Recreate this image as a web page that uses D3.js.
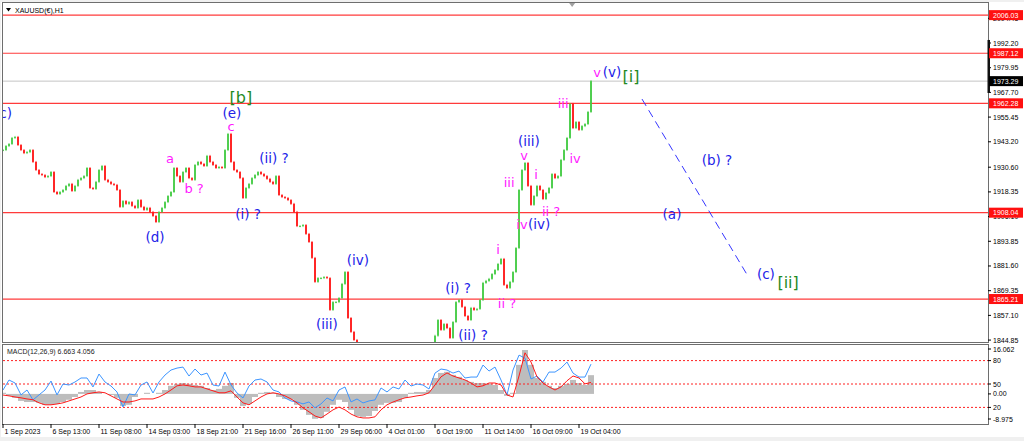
<!DOCTYPE html>
<html><head><meta charset="utf-8">
<script src="https://cdn.jsdelivr.net/npm/d3@7"></script>
<style>html,body{margin:0;padding:0;background:#f0f0f0;overflow:hidden}</style>
</head><body><svg id="c" width="1024" height="441"></svg>
<script>
// ---------- DATA ----------
const closes = [1939.1,1941.1,1942.1,1945.1,1945.6,1941.6,1939.1,1937.6,1938.1,1939.1,
1933.2,1929.2,1927.2,1926.7,1925.7,1926.2,1928.2,1918.3,1917.3,1918.3,
1919.3,1921.3,1922.3,1918.8,1921.3,1924.3,1925.2,1926.2,1930.2,1920.3,
1919.8,1923.3,1929.2,1931.2,1924.3,1923.3,1922.3,1921.8,1919.3,1910.9,
1913.8,1912.4,1913.3,1911.4,1910.4,1914.3,1910.9,1909.4,1910.4,1908.4,
1906.4,1903.4,1908.4,1910.4,1913.3,1916.3,1918.3,1930.2,1926.2,1923.3,
1928.2,1930.2,1925.2,1924.3,1931.7,1933.2,1932.2,1931.2,1936.2,1933.2,
1931.7,1930.2,1930.7,1930.2,1939.1,1947.1,1933.2,1929.2,1928.2,1925.2,
1915.3,1920.3,1922.3,1925.2,1926.7,1928.2,1927.2,1926.2,1924.8,1923.3,
1922.3,1926.2,1916.8,1915.8,1915.3,1914.3,1912.4,1908.4,1901.4,1901.4,
1901.9,1897.5,1893.5,1885.6,1873.7,1875.6,1875.6,1876.1,1875.6,1859.8,
1863.7,1863.7,1865.7,1872.7,1878.6,1855.8,1848.9,1844.9,1841.9,
1838,1835,1832,1830,1827,1825,1828,1823,1820,1822,1818,1815,1813,1816,1819,1814,1811,1817,1821,1825,1823,1828,1833,1837,1842,1847,
1854.8,1849.9,1852.8,1850.8,1845.9,1853.8,1863.7,1864.7,1861.3,1856.8,
1854.8,1860.8,1859.8,1860.3,1864.7,1873.2,1874.2,1875.2,1877.6,1879.6,
1882.6,1885.1,1872.2,1870.7,1873.7,1878.6,1890.5,1919.3,1929.2,1932.7,
1921.3,1911.9,1916.3,1921.3,1919.3,1914.8,1917.8,1920.3,1927.2,1925.2,
1926.2,1934.2,1939.1,1945.1,1962.0,1950.0,1953.0,1949.1,1951.0,1952.0,
1958.0,1973.3];

const xTickLabels = ["1 Sep 2023","6 Sep 13:00","11 Sep 08:00","14 Sep 03:00","18 Sep 21:00","21 Sep 16:00","26 Sep 11:00","29 Sep 06:00","4 Oct 01:00","6 Oct 19:00","11 Oct 14:00","16 Oct 09:00","19 Oct 04:00"];
const xTickEvery = 16;
const priceTicks = [2004.45,1992.20,1979.95,1967.70,1955.45,1943.20,1930.60,1918.35,1906.10,1893.85,1881.60,1869.35,1857.10,1844.85];
const levelLines = [2006.03,1987.12,1962.28,1908.04,1865.21];
const lastPrice = 1973.29;
const priceRange = [1843.4, 2012.04];
const barRange = [0, 328.33];

const macdMain = [0.4,-0.7,-1.4,-2.5,-2.9,-2.9,-3.2,-3.9,-3.9,-3.6,
-2.9,-2.1,-1.1,0.7,1.4,1.4,0.7,0,-0.4,-1.4,
-4.3,-3.9,-1.1,0,0.4,0,0.4,1.4,2.9,3.6,
3.9,3.6,3.2,2.9,2.1,1.4,1.8,2.9,3.9,-1.4,
-4.3,-3.6,-1.1,0.4,0.7,0.4,-1.1,-1.8,-2.1,-3.9,
-5.7,-7.5,-8.9,-8.6,-6.4,-3.9,-2.1,-2.9,-5.7,-7.9,
-8.2,-7.9,-6.1,-3.9,-3.2,-3.2,-2.9,-1.4,0.4,0.7,
0.7,1.4,5.7,7.5,7.9,6.8,6.1,5.0,4.3,3.9,
3.9,3.6,3.2,1.4,-0.7,0.4,10.4,15.7,10.4,5.7,
4.3,2.9,2.1,2.9,3.6,5.0,3.9,3.2,6.7];
const macdSignal = [-0.4,-0.7,-1.1,-1.4,-1.8,-2.1,-3.2,-3.9,-3.9,-3.6,
-3.2,-2.5,-1.8,-1.1,0,0.4,0.7,0.4,-0.7,-1.8,
-2.9,-2.9,-2.5,-1.8,-1.8,-1.8,-1.1,0,1.4,2.9,
3.2,2.9,2.5,2.5,1.8,1.1,0.4,0.4,1.1,-1.1,
-3.2,-3.9,-2.5,-1.1,0,0.4,0,-0.7,-1.8,-3.2,
-5.0,-6.4,-7.9,-8.6,-7.2,-5.7,-4.7,-5.7,-7.2,-8.2,
-8.6,-8.6,-8.2,-5.7,-3.9,-2.9,-2.1,-1.4,-1.1,-0.7,
-0.4,0.4,3.2,6.1,7.5,6.4,5.7,5.0,3.9,2.5,
2.9,3.9,3.9,3.2,-0.4,-1.1,6.4,14.7,11.4,6.1,
3.9,2.5,1.4,2.5,4.7,6.4,5.7,3.6,4.1];
const osc = [42.3,55.1,51.3,36.0,42.3,29.6,36.0,42.3,53.8,36.0,
50.0,48.7,52.6,57.7,57.7,46.2,62.8,52.6,47.4,39.8,
20.6,37.2,36.0,48.7,52.6,38.5,52.6,61.5,67.9,70.4,
71.7,60.2,69.2,61.5,64.0,48.7,47.4,65.3,48.7,38.5,
32.1,47.4,55.1,56.4,52.6,42.3,39.8,32.1,28.3,27.0,
24.5,27.0,19.4,24.5,32.1,28.3,42.3,46.2,27.0,30.8,
25.7,28.3,29.6,44.9,39.8,46.2,43.6,55.1,47.4,50.0,
48.7,43.6,64.0,69.2,67.9,64.0,66.6,57.7,58.9,58.9,
74.3,66.6,71.7,55.1,36.0,67.9,87.0,83.2,56.4,60.2,
52.6,65.3,65.3,70.4,78.1,64.0,58.9,58.9,75.5];
const macdEvery = 2;
const macdRange = [-8.975, 16.062];
const oscLevels = [80, 50, 20];
const macdAxisTicks = [16.062, 0, -8.975];
const macdTitle = "MACD(12,26,9) 6.663 4.056";
const chartTitle = "XAUUSD(€),H1";

const waveLabels = [
 {t:"(c)", bar:0, price:1957.5, c:"blue"},
 {t:"(e)", bar:76.3, price:1957.6, c:"blue"},
 {t:"(d)", bar:50.7, price:1896.0, c:"blue"},
 {t:"(i) ?", bar:81.7, price:1907.4, c:"blue"},
 {t:"(ii) ?", bar:90.3, price:1935.2, c:"blue"},
 {t:"(iii)", bar:108, price:1852.8, c:"blue"},
 {t:"(iv)", bar:118.3, price:1884.6, c:"blue"},
 {t:"(i) ?", bar:151.7, price:1870.7, c:"blue"},
 {t:"(ii) ?", bar:156.7, price:1847.4, c:"blue"},
 {t:"(iii)", bar:175.3, price:1943.6, c:"blue"},
 {t:"(iv)", bar:178.7, price:1902.4, c:"blue"},
 {t:"(v)", bar:203, price:1977.8, c:"blue"},
 {t:"(a)", bar:223, price:1907.4, c:"blue"},
 {t:"(b) ?", bar:238, price:1934.2, c:"blue"},
 {t:"(c)", bar:254.3, price:1877.6, c:"blue"},
 {t:"a", bar:55.7, price:1934.7, c:"mag"},
 {t:"b ?", bar:63.7, price:1919.8, c:"mag"},
 {t:"c", bar:76, price:1951.0, c:"mag"},
 {t:"i", bar:165, price:1890.0, c:"mag"},
 {t:"ii ?", bar:168, price:1863.2, c:"mag"},
 {t:"iii", bar:168.7, price:1922.8, c:"mag"},
 {t:"v", bar:173.7, price:1936.2, c:"mag"},
 {t:"i", bar:177.7, price:1927.2, c:"mag"},
 {t:"ii ?", bar:182.7, price:1908.4, c:"mag"},
 {t:"iv", bar:173, price:1902.4, c:"mag"},
 {t:"iii", bar:186.7, price:1962.4, c:"mag"},
 {t:"iv", bar:190.7, price:1934.7, c:"mag"},
 {t:"v", bar:198, price:1977.8, c:"mag"},
 {t:"[b]", bar:79.3, price:1965.4, c:"green"},
 {t:"[i]", bar:209.3, price:1975.8, c:"green"},
 {t:"[ii]", bar:261.7, price:1873.2, c:"green"}
];
const projection = [{bar:213, price:1964.4},{bar:248.3, price:1876.6}];

// ---------- DRAW ----------
const svg = d3.select("#c");
const L = 3, R = 988, T = 3, B = 343, MT = 345, MB = 424;
const xs = d3.scaleLinear().domain(barRange).range([L, R]);
const ys = d3.scaleLinear().domain(priceRange).range([B, T]);
const ym = d3.scaleLinear().domain(macdRange).range([419, 349]);
const yo = d3.scaleLinear().domain([0, 100]).range([423, 345]);
const smallFont = "'Liberation Sans', Arial, sans-serif";
const colors = {blue:"#2222e8", mag:"#ff1aff", green:"#1f8a1f"};
const sizes = {blue:13.5, mag:13, green:16};

svg.append("rect").attr("x",0).attr("y",0).attr("width",1024).attr("height",441).attr("fill","#f0f0f0");
svg.append("rect").attr("x",1).attr("y",2).attr("width",1023).attr("height",435).attr("fill","#ffffff");

const defs = svg.append("defs");
defs.append("clipPath").attr("id","mainClip").append("rect").attr("x",L).attr("y",T).attr("width",R-L).attr("height",B-T);
defs.append("clipPath").attr("id","macdClip").append("rect").attr("x",L).attr("y",MT).attr("width",R-L).attr("height",MB-MT);

const main = svg.append("g").attr("clip-path","url(#mainClip)");

main.selectAll("line.lvl").data(levelLines).enter().append("line")
  .attr("x1",L).attr("x2",R).attr("y1",d=>ys(d)).attr("y2",d=>ys(d))
  .attr("stroke","#ff3b3b").attr("stroke-width",1.2);
main.append("line").attr("x1",L).attr("x2",R).attr("y1",ys(lastPrice)).attr("y2",ys(lastPrice))
  .attr("stroke","#c4c4c4").attr("stroke-width",1);

const candles = closes.map((c,i)=>({i, o: i===0 ? c : closes[i-1], c}));
main.selectAll("line.wk").data(candles).enter().append("line")
  .attr("x1",d=>xs(d.i)).attr("x2",d=>xs(d.i))
  .attr("y1",d=>ys(Math.max(d.o,d.c))-1).attr("y2",d=>ys(Math.min(d.o,d.c))+1)
  .attr("stroke",d=> d.c>=d.o ? "#46cc46" : "#ff1a1a").attr("stroke-width",0.8);
main.selectAll("rect.cd").data(candles).enter().append("rect")
  .attr("x",d=>xs(d.i)-0.9).attr("width",1.8)
  .attr("y",d=>ys(Math.max(d.o,d.c)))
  .attr("height",d=>Math.max(1, Math.abs(ys(d.o)-ys(d.c))))
  .attr("fill",d=> d.c>=d.o ? "#46cc46" : "#ff1a1a");

main.append("line")
  .attr("x1",xs(projection[0].bar)).attr("y1",ys(projection[0].price))
  .attr("x2",xs(projection[1].bar)).attr("y2",ys(projection[1].price))
  .attr("stroke","#3636ff").attr("stroke-width",1).attr("stroke-dasharray","8,5");

main.selectAll("text.wl").data(waveLabels).enter().append("text")
  .attr("x",d=>xs(d.bar)).attr("y",d=>ys(d.price))
  .attr("text-anchor","middle").attr("dominant-baseline","central")
  .attr("font-family","'DejaVu Sans', sans-serif")
  .attr("font-size", d=>sizes[d.c])
  .attr("fill", d=>colors[d.c])
  .text(d=>d.t);

svg.append("path").attr("d","M6,8 L11,8 L8.5,11.5 Z").attr("fill","#000");
svg.append("text").attr("x",15).attr("y",10).attr("dominant-baseline","central")
  .attr("font-family",smallFont).attr("font-size",7).attr("fill","#000").text(chartTitle);
svg.append("path").attr("d",`M${xs(189.7)-3},3 L${xs(189.7)+3},3 L${xs(189.7)},7 Z`).attr("fill","#a0a0a0");

const mp = svg.append("g").attr("clip-path","url(#macdClip)");
const hw = (xs(macdEvery)-xs(0))/2;
mp.selectAll("rect.h").data(macdMain).enter().append("rect")
  .attr("x",(d,k)=>xs(k*macdEvery)-hw).attr("width",hw*2)
  .attr("y",d=>Math.min(ym(d),ym(0))).attr("height",d=>Math.abs(ym(d)-ym(0)))
  .attr("fill","#bdbdbd");
mp.selectAll("line.ol").data(oscLevels).enter().append("line")
  .attr("x1",L).attr("x2",R).attr("y1",d=>yo(d)).attr("y2",d=>yo(d))
  .attr("stroke","#ff2020").attr("stroke-width",1).attr("stroke-dasharray","2,2");
mp.append("path").datum(osc)
  .attr("d", d3.line().x((d,k)=>xs(k*macdEvery)).y(d=>yo(d)))
  .attr("fill","none").attr("stroke","#3d95ff").attr("stroke-width",1);
mp.append("path").datum(macdSignal)
  .attr("d", d3.line().x((d,k)=>xs(k*macdEvery)).y(d=>ym(d)))
  .attr("fill","none").attr("stroke","#ff1a1a").attr("stroke-width",1);
svg.append("text").attr("x",7).attr("y",351).attr("dominant-baseline","central")
  .attr("font-family",smallFont).attr("font-size",7).attr("fill","#222").text(macdTitle);

svg.append("rect").attr("x",L-0.5).attr("y",T-0.5).attr("width",R-L+1).attr("height",B-T)
  .attr("fill","none").attr("stroke","#6e6e6e");
svg.append("rect").attr("x",L-0.5).attr("y",MT-0.5).attr("width",R-L+1).attr("height",MB-MT+1)
  .attr("fill","none").attr("stroke","#6e6e6e");

const ax = svg.append("g");
ax.selectAll("line.pt").data(priceTicks).enter().append("line")
  .attr("x1",R).attr("x2",R+3).attr("y1",d=>ys(d)).attr("y2",d=>ys(d)).attr("stroke","#000");
ax.selectAll("text.pt").data(priceTicks).enter().append("text")
  .attr("x",R+5).attr("y",d=>ys(d)).attr("dominant-baseline","central")
  .attr("font-family",smallFont).attr("font-size",7).attr("fill","#000")
  .text(d=>d.toFixed(2));
ax.append("rect").attr("x",R-0.5).attr("y",ys(1993.7)).attr("width",2.5).attr("height",ys(1967.4)-ys(1993.7)).attr("fill","#111");
const tags = levelLines.map(v=>({v, bg:"#ff1010"})).concat([{v:lastPrice, bg:"#000"}]);
ax.selectAll("rect.tag").data(tags).enter().append("rect")
  .attr("x",R+1).attr("y",d=>ys(d.v)-5).attr("width",34).attr("height",10).attr("fill",d=>d.bg);
ax.selectAll("text.tag").data(tags).enter().append("text")
  .attr("x",R+5).attr("y",d=>ys(d.v)).attr("dominant-baseline","central")
  .attr("font-family",smallFont).attr("font-size",7).attr("fill","#fff")
  .text(d=>d.v.toFixed(2));

const mTicks = [
  ...macdAxisTicks.map(v=>({y:ym(v), t: v===0 ? "0.00" : String(v)})),
  ...oscLevels.map(v=>({y:yo(v), t:String(v)}))
];
ax.selectAll("line.mt").data(mTicks).enter().append("line")
  .attr("x1",R).attr("x2",R+3).attr("y1",d=>d.y).attr("y2",d=>d.y).attr("stroke","#000");
ax.selectAll("text.mt").data(mTicks).enter().append("text")
  .attr("x",R+5).attr("y",d=>d.y).attr("dominant-baseline","central")
  .attr("font-family",smallFont).attr("font-size",7).attr("fill","#000").text(d=>d.t);

const xt = xTickLabels.map((t,j)=>({t, bar:j*xTickEvery}));
ax.selectAll("line.xt").data(xt).enter().append("line")
  .attr("x1",d=>xs(d.bar)).attr("x2",d=>xs(d.bar)).attr("y1",MB).attr("y2",MB+4).attr("stroke","#000");
ax.selectAll("text.xt").data(xt).enter().append("text")
  .attr("x",d=>xs(d.bar)+1.5).attr("y",431).attr("dominant-baseline","central")
  .attr("font-family",smallFont).attr("font-size",7).attr("fill","#000").text(d=>d.t);
</script></body></html>
